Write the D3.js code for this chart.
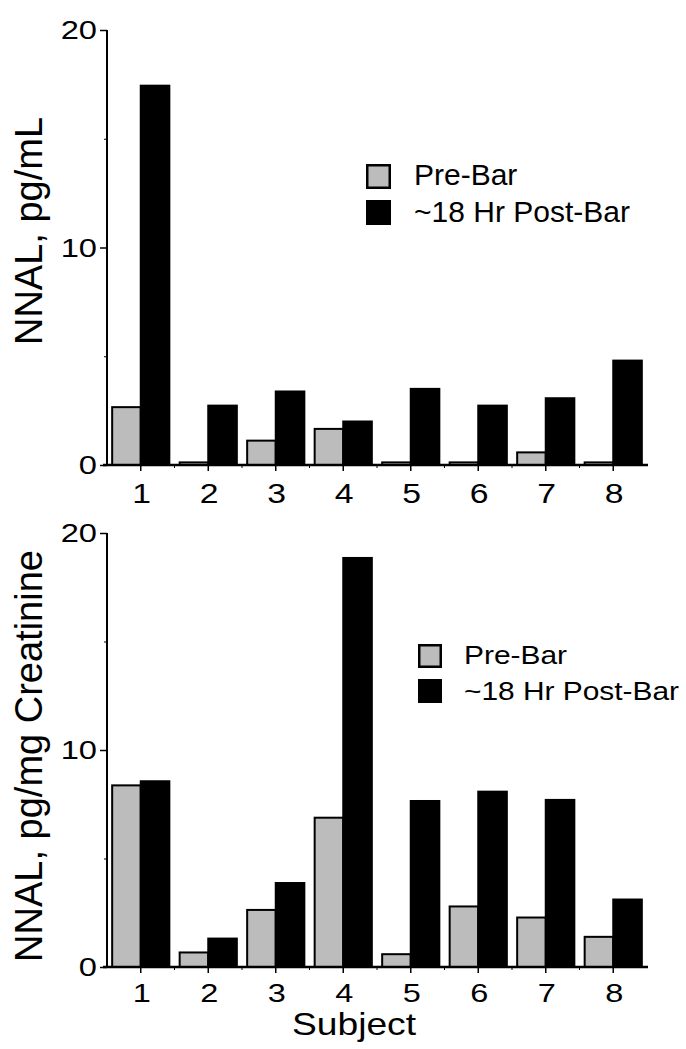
<!DOCTYPE html>
<html>
<head>
<meta charset="utf-8">
<script src="https://cdn.jsdelivr.net/npm/d3@7"></script>
<style>
  html, body { margin: 0; padding: 0; background: #fff; }
  svg { display: block; font-family: "Liberation Sans", Arial, Helvetica, sans-serif; }
</style>
</head>
<body>
<svg id="chart" width="686" height="1049"></svg>
<script>
// ---- data ----
const subjects = ["1", "2", "3", "4", "5", "6", "7", "8"];
const seriesNames = ["Pre-Bar", "~18 Hr Post-Bar"];
const plasmaPre  = [2.66, 0.12, 1.12, 1.66, 0.12, 0.12, 0.58, 0.12];
const plasmaPost = [17.44, 2.73, 3.38, 2.0, 3.5, 2.73, 3.07, 4.8];
const urinePre   = [8.37, 0.67, 2.63, 6.88, 0.59, 2.79, 2.28, 1.39];
const urinePost  = [8.56, 1.31, 3.87, 18.85, 7.65, 8.08, 7.70, 3.11];
const yTickValues = [0, 10, 20];
const yMinorTicks = [5, 15];
const topYLabel = "NNAL, pg/mL";
const bottomYLabel = "NNAL, pg/mg Creatinine";
const xLabel = "Subject";

const colors = ["#bcbcbc", "#000000"];

const svg = d3.select("#chart");

const x0 = d3.scaleBand().domain(subjects).range([107, 647]).paddingInner(0.153).paddingOuter(0.0765);
const x1 = d3.scaleBand().domain(seriesNames).range([0, x0.bandwidth()]);

function stretchedText(g, x, y, str, size, sx, anchor) {
  return g.append("g").attr("transform", `translate(${x},${y}) scale(${sx},1)`)
    .append("text").attr("x", 0).attr("y", 0)
    .attr("font-size", size).attr("text-anchor", anchor || "start")
    .attr("fill", "#000").text(str);
}

function panel(cfg) {
  const y = d3.scaleLinear().domain([0, 20]).range([cfg.y0, cfg.y1]);
  const g = svg.append("g");

  // bars
  const rows = subjects.map((s, i) => ({ s, vals: [cfg.pre[i], cfg.post[i]] }));
  const grp = g.selectAll("g.cat").data(rows).join("g")
    .attr("transform", d => `translate(${x0(d.s)},0)`);
  grp.selectAll("rect").data(d => d.vals.map((v, k) => ({ v, k })))
    .join("rect")
    .attr("x", d => x1(seriesNames[d.k]))
    .attr("width", x1.bandwidth())
    .attr("y", d => y(d.v))
    .attr("height", d => y(0) - y(d.v))
    .attr("fill", d => colors[d.k])
    .attr("stroke", "#000")
    .attr("stroke-width", 2);

  // y axis
  const yAxis = d3.axisLeft(y).tickValues(yTickValues).tickSize(7).tickFormat("");
  const ya = g.append("g").attr("transform", "translate(107,0)").call(yAxis);
  ya.select(".domain").attr("stroke-width", 2).attr("d", `M0,${cfg.y1}V${cfg.y0}`);
  ya.selectAll(".tick line").attr("stroke-width", 1.5);
  const yMinor = d3.axisLeft(y).tickValues(yMinorTicks).tickSize(3).tickFormat("");
  const ym = g.append("g").attr("transform", "translate(107,0)").call(yMinor);
  ym.select(".domain").remove();
  yTickValues.forEach(v => {
    stretchedText(g, 97, y(v) + 9, String(v), 25.5, 1.28, "end");
  });

  // x axis
  const xAxis = d3.axisBottom(x0).tickSize(6).tickFormat("");
  const xa = g.append("g").attr("transform", `translate(0,${cfg.y0})`).call(xAxis);
  xa.select(".domain").attr("stroke-width", 2.5).attr("d", "M103,0H648");
  xa.selectAll(".tick line").attr("stroke-width", 1.5);
  const bounds = subjects.slice(1).map(s => x0(s) - x0.step() * x0.paddingInner() / 2);
  xa.selectAll("line.minor").data(bounds).join("line").attr("class", "minor")
    .attr("x1", d => d).attr("x2", d => d).attr("y1", 0).attr("y2", 3)
    .attr("stroke", "#000").attr("stroke-width", 1);
  subjects.forEach(s => {
    stretchedText(g, x0(s) + x0.bandwidth() / 2 + 1, cfg.xLabY, s, cfg.xFont, 1.25, "middle");
  });

  // y label
  g.append("text")
    .attr("transform", `translate(42,${cfg.yLabC}) rotate(-90)`)
    .attr("text-anchor", "middle")
    .attr("font-size", 38)
    .text(cfg.ylabel);

  // legend
  const L = cfg.legend;
  seriesNames.forEach((n, k) => {
    g.append("rect")
      .attr("x", L.x + 1.25).attr("y", L.ys[k] + 1.25)
      .attr("width", L.size - 2.5).attr("height", L.size - 2.5)
      .attr("fill", colors[k]).attr("stroke", "#000").attr("stroke-width", 2.5);
    stretchedText(g, L.tx, L.bs[k], n, L.font, L.sx, "start");
  });
  return y;
}

panel({
  y0: 465, y1: 30, pre: plasmaPre, post: plasmaPost, ylabel: topYLabel,
  yLabC: 231, xLabY: 503, xFont: 27,
  legend: { x: 366, ys: [164, 200], size: 25, tx: 414, bs: [185, 221.5], font: 30, sx: 1.0 }
});

panel({
  y0: 967, y1: 533, pre: urinePre, post: urinePost, ylabel: bottomYLabel,
  yLabC: 756, xLabY: 1002, xFont: 26,
  legend: { x: 418, ys: [644, 679], size: 24, tx: 464, bs: [664, 700], font: 26, sx: 1.15 }
});

// x title
stretchedText(svg, 354, 1035, xLabel, 31, 1.2, "middle");
</script>
</body>
</html>
